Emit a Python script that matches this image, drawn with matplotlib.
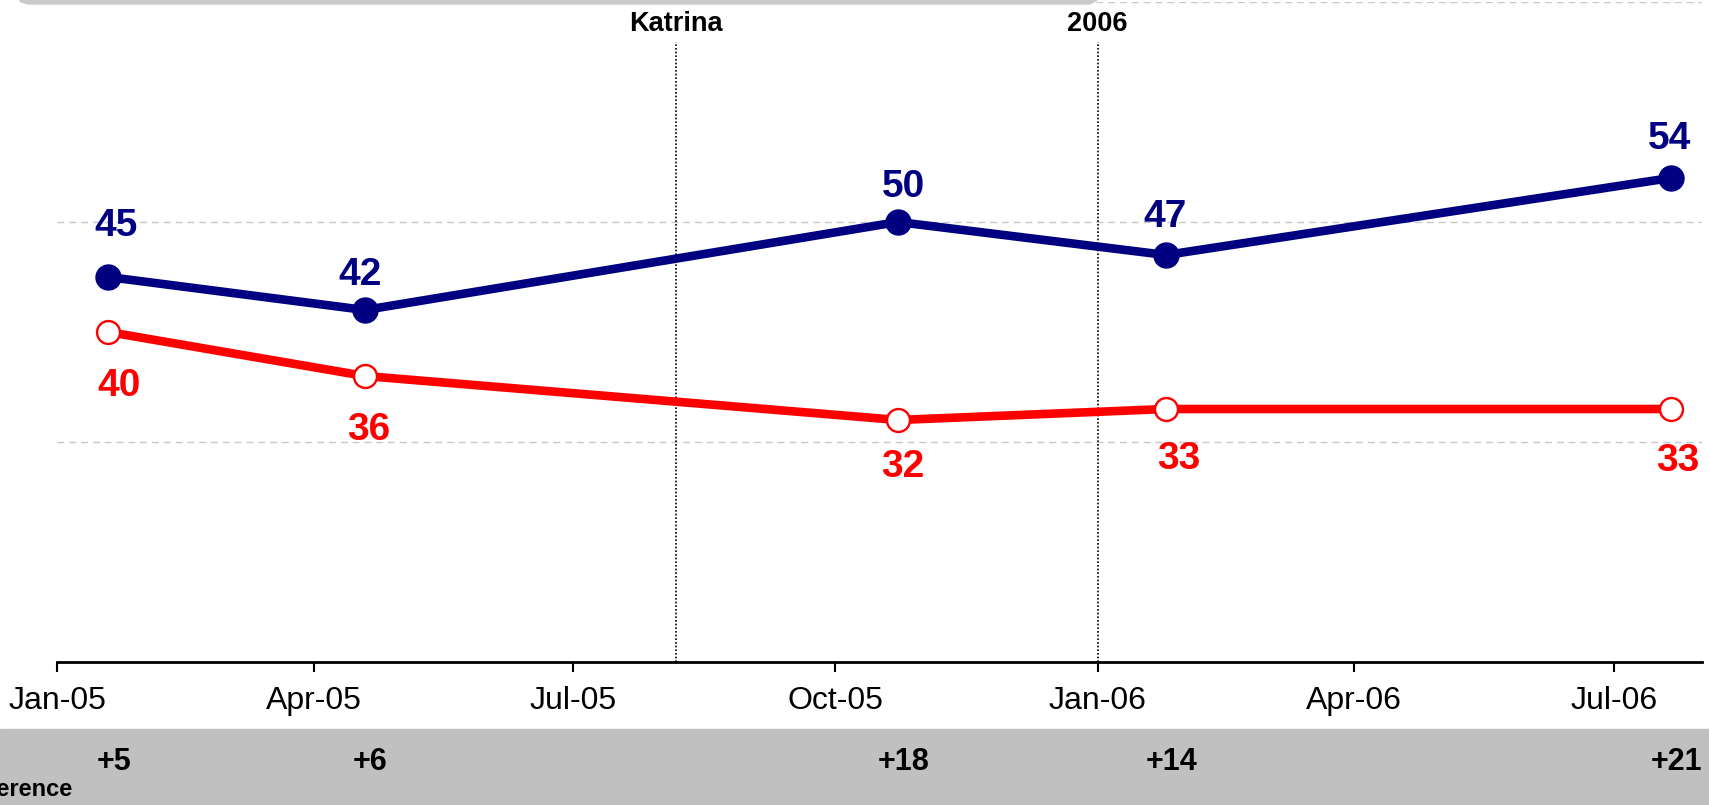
import datetime as dt
import matplotlib
matplotlib.use("Agg")
import matplotlib.pyplot as plt
import matplotlib.dates as mdates
from matplotlib.patches import Rectangle, Polygon

plt.rcParams['font.family'] = ['Liberation Sans', 'DejaVu Sans']

# data
survey_dates = [dt.date(2005, 1, 19), dt.date(2005, 4, 19), dt.date(2005, 10, 23),
                dt.date(2006, 1, 25), dt.date(2006, 7, 21)]
blue_vals = [45, 42, 50, 47, 54]
red_vals = [40, 36, 32, 33, 33]
events = ["Katrina", "2006"]
event_dates = [dt.date(2005, 8, 6), dt.date(2006, 1, 1)]
tick_dates = [dt.date(2005, 1, 1), dt.date(2005, 4, 1), dt.date(2005, 7, 1), dt.date(2005, 10, 1),
              dt.date(2006, 1, 1), dt.date(2006, 4, 1), dt.date(2006, 7, 1)]
diff_title = "Difference"

# label nudges in pixels (dx, dy), layout only
blue_off = [(8, 51), (-5, 35), (5, 35), (-1, 38), (-1, 39)]
red_off = [(11, -54), (4, -54), (5, -47), (13, -50), (7, -52)]

BLUE = "#000080"
RED = "#ff0000"
W, H = 1709, 805


def fx(px):
    return px / W


def fy(py):
    # py measured from the top
    return (H - py) / H


fig = plt.figure(figsize=(W / 100, H / 100), dpi=100)
ax = fig.add_axes([fx(57), fy(662), fx(1702 - 57), (662 - 2) / H])

# grey strip at the bottom + bar at the top
fig.add_artist(Rectangle((0, 0), 1, fy(729), transform=fig.transFigure,
                         color="#c0c0c0", zorder=-1))
fig.add_artist(Polygon([(fx(20), 1), (fx(1097), 1), (fx(1090), fy(4)), (fx(28), fy(4)), (fx(20), fy(1.5))],
                       closed=True, transform=fig.transFigure, color="#cacaca", zorder=5))

ax.plot(survey_dates, blue_vals, color=BLUE, lw=6.2, marker="o", ms=18,
        mfc=BLUE, mec=BLUE, zorder=4, solid_capstyle="butt")
ax.plot(survey_dates, red_vals, color=RED, lw=6.2, marker="o", ms=16.5,
        mfc="white", mec=RED, mew=1.7, zorder=4, solid_capstyle="butt")

for d, v, (dx, dy) in zip(survey_dates, blue_vals, blue_off):
    ax.annotate(str(v), (d, v), xytext=(dx * 0.72, dy * 0.72), textcoords="offset points",
                ha="center", va="center", fontsize=28, fontweight="bold", color=BLUE)
for d, v, (dx, dy) in zip(survey_dates, red_vals, red_off):
    ax.annotate(str(v), (d, v), xytext=(dx * 0.72, dy * 0.72), textcoords="offset points",
                ha="center", va="center", fontsize=28, fontweight="bold", color=RED)

# event markers
for name, d in zip(events, event_dates):
    ax.axvline(d, ymin=0, ymax=(662 - 42) / 660, color="black", lw=1.2,
               linestyle=(0, (1, 1.2)), zorder=2)
    ax.annotate(name, (d, fy(24)), xycoords=("data", "figure fraction"),
                ha="center", va="center", fontsize=19.5, fontweight="bold")

# difference row
for d, b, r in zip(survey_dates, blue_vals, red_vals):
    ax.annotate(f"+{b - r}", (d, fy(762)), xycoords=("data", "figure fraction"),
                xytext=(4, 0), textcoords="offset points",
                ha="center", va="center", fontsize=22, fontweight="bold", annotation_clip=False)
fig.text(fx(73), fy(789), diff_title, ha="right", va="center", fontsize=17, fontweight="bold")

ax.set_xlim(dt.date(2005, 1, 1), dt.date(2006, 8, 1))
ax.set_ylim(10, 70)
ax.set_xticks(tick_dates)
ax.xaxis.set_major_formatter(mdates.DateFormatter("%b-%y"))
ax.set_yticks([30, 50, 70])
ax.tick_params(axis="y", length=0, labelleft=False)
ax.tick_params(axis="x", length=7.2, width=1.5, labelsize=23, pad=10, direction="out")
ax.grid(axis="y", color="#c8c8c8", lw=1, linestyle=(0, (5, 3.5)))
ax.set_axisbelow(True)
for s in ["top", "right", "left"]:
    ax.spines[s].set_visible(False)
ax.spines["bottom"].set_linewidth(2)

fig.savefig("out.png", dpi=100)
